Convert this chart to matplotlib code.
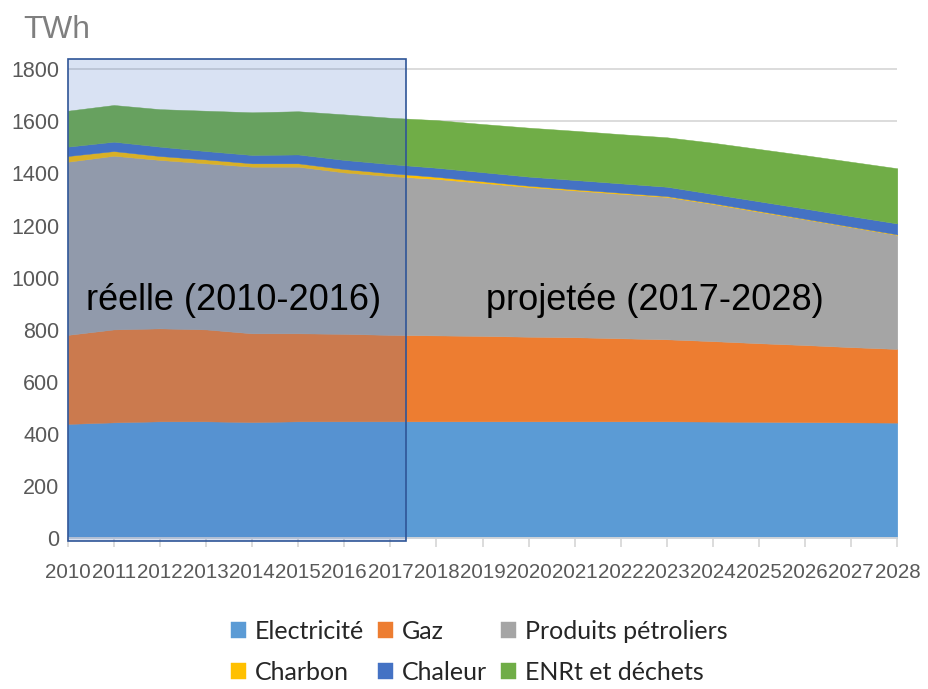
import matplotlib
matplotlib.use("Agg")
import matplotlib.pyplot as plt
from matplotlib.patches import Rectangle

# consommation finale d'energie par vecteur (TWh), reelle puis projetee
years = list(range(2010, 2029))
electricite = [438, 444, 448, 448, 445, 448, 448, 448, 448, 448, 448, 448, 448, 448, 447, 446, 445, 444, 443]
gaz = [342, 357, 357, 353, 341, 338, 336, 332, 330, 328, 325, 323, 319, 315, 309, 302, 296, 289, 283]
petrole = [665, 667, 647, 638, 640, 640, 620, 610, 601, 588, 575, 564, 555, 547, 527, 505, 483, 461, 438]
charbon = [22, 18, 15, 15, 13, 13, 13, 11, 8, 6, 5, 4, 4, 3, 3, 3, 2, 2, 2]
chaleur = [36, 36, 36, 32, 32, 34, 35, 35, 35, 35, 35, 36, 36, 36, 35, 37, 39, 40, 42]
enrt = [138, 141, 144, 155, 164, 166, 175, 178, 183, 185, 188, 189, 189, 190, 197, 201, 205, 209, 212]

labels = ["Electricité", "Gaz", "Produits pétroliers", "Charbon", "Chaleur", "ENRt et déchets"]
colors = ["#5B9BD5", "#ED7D31", "#A5A5A5", "#FFC000", "#4472C4", "#70AD47"]
yticks = list(range(0, 2000, 200))

plt.rcParams['font.family'] = ['Liberation Sans', 'DejaVu Sans']

fig = plt.figure(figsize=(9.29, 6.89), dpi=100)
ax = fig.add_axes([0.0729, 0.2192, 0.893, 0.6953])

polys = ax.stackplot(years, electricite, gaz, petrole, charbon, chaleur, enrt,
                     colors=colors, labels=labels, zorder=2)
for p in polys:
    p.set_edgecolor(p.get_facecolor())
    p.set_linewidth(0.3)

ax.set_xlim(2010, 2028)
ax.set_ylim(0, 1840)
ax.set_yticks(yticks)
ax.set_xticks(years)
ax.set_xticklabels([str(y) for y in years])

ax.grid(axis='y', color='#D9D9D9', linewidth=1.3, zorder=0)
ax.set_axisbelow(True)
for s in ['top', 'right', 'left']:
    ax.spines[s].set_visible(False)
ax.spines['bottom'].set_color('#D9D9D9')
ax.spines['bottom'].set_linewidth(1.3)
ax.tick_params(axis='y', length=0, pad=6, labelsize=15.5, labelcolor='#595959')
ax.tick_params(axis='x', length=6.5, width=1.3, color='#D9D9D9', pad=11.5,
               labelsize=14.8, labelcolor='#595959')

# cadre de la periode reelle
ax.add_patch(Rectangle((2010, -11), 7.33, 1849, facecolor='#4472C4', alpha=0.2,
                       edgecolor='none', zorder=3, clip_on=False))
ax.add_patch(Rectangle((2010, -11), 7.33, 1849, facecolor='none',
                       edgecolor='#2F5597', linewidth=1.2, zorder=4, clip_on=False))

ax.text(2013.6, 914, "réelle (2010-2016)", ha='center', va='center', fontsize=26,
        color='black', zorder=5)
ax.text(2022.73, 914, "projetée (2017-2028)", ha='center', va='center', fontsize=26,
        color='black', zorder=5)

fig.text(0.0245, 0.9453, "TWh", fontsize=22.8, color='#7F7F7F', va='baseline')

# legende : 3 colonnes, remplie par colonne
h, l = ax.get_legend_handles_labels()
order = [0, 3, 1, 4, 2, 5]
fig.legend([h[i] for i in order], [l[i] for i in order], ncol=3,
           loc='center', bbox_to_anchor=(0.516, 0.054), frameon=False,
           prop={'family': ['Lato', 'DejaVu Sans'], 'size': 18},
           handlelength=0.6, handleheight=0.6, handletextpad=0.36,
           columnspacing=0.55, labelspacing=0.7, labelcolor='#262626')

fig.savefig("out.png", dpi=100)
